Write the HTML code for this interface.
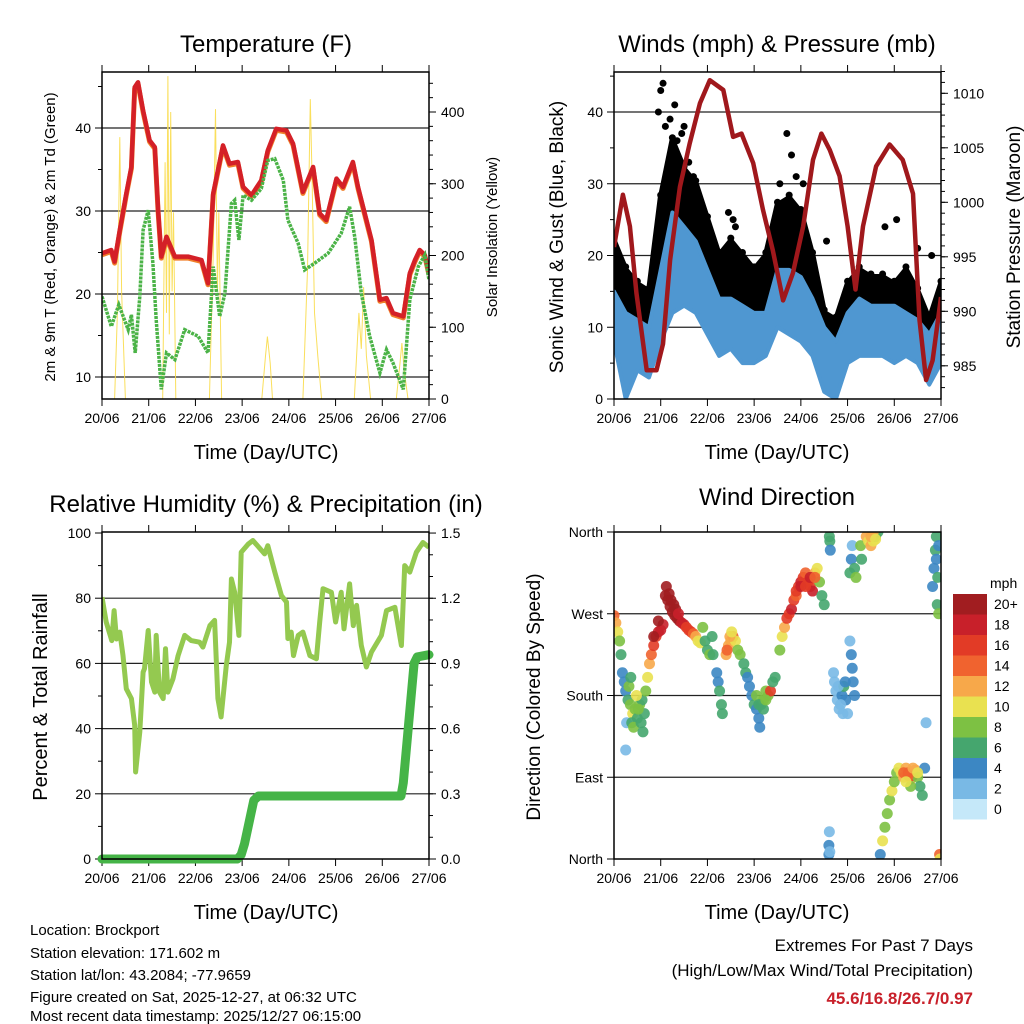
<!DOCTYPE html>
<html><head><meta charset="utf-8"><style>
html,body{margin:0;padding:0;background:#fff;}
svg{display:block;font-family:"Liberation Sans",Arial,sans-serif;}
</style></head><body>
<svg id="chart" width="1024" height="1024" viewBox="0 0 1024 1024" xmlns="http://www.w3.org/2000/svg">
<rect x="0" y="0" width="1024" height="1024" fill="#fff"/>
<g font-size="24" text-anchor="middle" fill="#000">
<text x="266" y="52">Temperature (F)</text>
<text x="777" y="52">Winds (mph) &amp; Pressure (mb)</text>
<text x="266" y="512">Relative Humidity (%) &amp; Precipitation (in)</text>
<text x="777" y="505">Wind Direction</text>
</g>
<g font-size="20" text-anchor="middle">
<text x="266" y="459">Time (Day/UTC)</text>
<text x="777" y="459">Time (Day/UTC)</text>
<text x="266" y="919">Time (Day/UTC)</text>
<text x="777" y="919">Time (Day/UTC)</text>
</g>
<text transform="translate(55,237) rotate(-90)" font-size="15" text-anchor="middle">2m &amp; 9m T (Red, Orange) &amp; 2m Td (Green)</text>
<text transform="translate(497,237) rotate(-90)" font-size="15" text-anchor="middle">Solar Insolation (Yellow)</text>
<text transform="translate(563,237) rotate(-90)" font-size="19" text-anchor="middle">Sonic Wind &amp; Gust (Blue, Black)</text>
<text transform="translate(1020,237) rotate(-90)" font-size="19" text-anchor="middle">Station Pressure (Maroon)</text>
<text transform="translate(47,697) rotate(-90)" font-size="20" text-anchor="middle">Percent &amp; Total Rainfall</text>
<text transform="translate(540,697) rotate(-90)" font-size="19" text-anchor="middle">Direction (Colored By Speed)</text>
<g font-size="15">
<text x="30" y="935">Location: Brockport</text>
<text x="30" y="958">Station elevation: 171.602 m</text>
<text x="30" y="980">Station lat/lon: 43.2084; -77.9659</text>
<text x="30" y="1002">Figure created on Sat, 2025-12-27, at 06:32 UTC</text>
<text x="30" y="1024" dy="-3">Most recent data timestamp: 2025/12/27 06:15:00</text>
</g>
<g font-size="17" text-anchor="end">
<text x="973" y="951">Extremes For Past 7 Days</text>
<text x="973" y="976">(High/Low/Max Wind/Total Precipitation)</text>
<text x="973" y="1004" fill="#c8202a" font-weight="bold">45.6/16.8/26.7/0.97</text>
</g>
<text x="990" y="588" font-size="14">mph</text>
<g id="marks"></g>
</svg>
<script>
// ---------- data ----------
const dayLabels = ["20/06","21/06","22/06","23/06","24/06","25/06","26/06","27/06"];
const tempDays = [0,0.2,0.27,0.38,0.52,0.63,0.7,0.77,0.88,1.02,1.13,1.2,1.27,1.38,1.56,1.84,2.13,2.27,2.38,2.59,2.73,2.91,3.02,3.2,3.41,3.55,3.73,3.95,4.09,4.3,4.52,4.66,4.8,5.02,5.16,5.37,5.48,5.77,5.95,6.09,6.23,6.45,6.59,6.7,6.8,6.91,7.0];
const tempVals = [24.9,25.3,23.9,27.7,32.1,35.3,44.9,45.5,42.1,38.5,37.7,30.1,24.5,26.9,24.5,24.5,24.1,21.3,32.1,37.9,35.7,35.9,32.9,31.9,33.7,37.3,39.9,39.7,38.1,32.3,35.3,29.7,28.9,33.9,32.9,35.9,32.9,26.5,19.3,19.5,17.7,17.3,22.5,24.1,25.3,24.7,22.5];
const dewDays = [0,0.2,0.36,0.56,0.63,0.71,0.81,0.88,0.99,1.09,1.16,1.27,1.38,1.56,1.77,2.06,2.27,2.38,2.52,2.63,2.77,2.84,2.93,3.02,3.2,3.41,3.55,3.7,3.88,3.98,4.2,4.34,4.55,4.84,5.12,5.3,5.41,5.55,5.73,5.95,6.09,6.23,6.45,6.59,6.77,6.91,7.0];
const dewVals = [19.7,16.1,18.7,15.7,17.5,12.9,19.7,27.7,30.1,23.7,16.9,8.5,12.9,12.1,15.7,14.9,12.9,23.3,17.3,20.1,30.9,31.3,26.5,31.9,31.3,32.7,36.1,36.3,33.7,28.9,26.1,22.9,23.7,24.9,27.3,30.5,26.9,20.1,14.9,10.5,13.3,11.7,8.5,19.3,23.3,24.7,21.7];
const solarDays = [0.27,0.33,0.38,0.42,0.5,1.3,1.35,1.38,1.41,1.44,1.47,1.5,1.53,1.58,2.3,2.38,2.43,2.47,2.5,2.56,3.42,3.5,3.54,3.6,3.65,4.3,4.4,4.46,4.5,4.55,4.62,4.7,5.4,5.5,5.55,5.6,5.66,5.75,6.3,6.38,6.42,6.47,6.55];
const solarVals = [0,120,365,150,0,0,330,120,450,90,400,150,260,0,0,200,404,150,260,0,0,60,87,50,0,0,180,418,300,120,60,0,0,120,70,156,60,0,0,50,78,40,0];
const windDays = [0,0.25,0.5,0.75,1,1.25,1.5,1.75,2,2.25,2.5,2.75,3,3.25,3.5,3.75,4,4.25,4.5,4.75,5,5.25,5.5,5.75,6,6.25,6.5,6.75,7];
const gustMax = [22,18,16,15,28,36,32,30,25,20,22,20,18,20,27,28,26,20,12,11,16,18,17,17,16,18,15,11,16];
const gustMin = [14,9,8,7,15,22,20,18,14,11,12,10,9,11,16,16,14,10,5,5,10,12,11,11,10,11,10,7,10];
const windMax = [15,12,11,10,18,26,24,22,18,14,14,13,12,12,18,18,17,14,10,8,12,14,13,13,13,12,11,9,12];
const windMin = [8,0,4,3,8,12,13,12,9,6,7,5,5,6,10,9,8,6,1,0,5,6,6,6,5,6,5,2,5];
const gustOutDays = [0.95,1.0,1.05,1.1,1.2,1.3,1.35,1.45,1.5,1.6,1.7,2.45,2.55,2.6,3.55,3.7,3.8,3.9,4.05,4.55,5.8,6.05,6.5,6.8];
const gustOutVals = [40,43,44,38,39,41,36,37,38,33,31,26,25,24,30,37,34,31,30,22,24,25,21,20];
const presDays = [0,0.19,0.34,0.48,0.7,0.91,1.05,1.2,1.41,1.62,1.84,2.05,2.34,2.55,2.73,2.98,3.19,3.4,3.62,3.83,4.05,4.26,4.44,4.62,4.83,5.0,5.17,5.33,5.61,5.9,6.18,6.4,6.54,6.68,6.82,7.0];
const presVals = [995.9,1000.7,997.8,991.7,984.6,984.6,987,994.7,1001.4,1005.4,1009.1,1011.2,1010.3,1006,1006.3,1003.6,999.3,995.6,991,993.5,997.8,1003.9,1006.3,1004.8,1002.4,997.8,992,997.8,1003.3,1005.3,1003.9,1000.8,989.2,983.7,985.5,991.3];
const rhDays = [0,0.09,0.21,0.26,0.31,0.38,0.45,0.52,0.63,0.7,0.72,0.81,0.88,0.91,0.99,1.06,1.13,1.16,1.23,1.31,1.36,1.41,1.52,1.63,1.77,1.91,2.09,2.16,2.31,2.41,2.48,2.55,2.66,2.73,2.77,2.84,2.93,2.98,3.13,3.23,3.48,3.55,3.7,3.84,3.95,3.98,4.05,4.1,4.2,4.3,4.45,4.59,4.66,4.73,4.91,5.0,5.12,5.18,5.3,5.38,5.45,5.55,5.66,5.77,5.98,6.09,6.27,6.41,6.48,6.59,6.73,6.87,7.0];
const rhVals = [80.3,72.7,67,76.2,67.5,69.6,62.4,52.2,49.2,41,26.7,39,57.3,58.4,70.1,54.3,51.2,68.6,51.2,49.2,64.5,51.2,55.3,62.4,68.6,67,66.5,65,71.6,73.2,49.2,43.6,59.4,66.5,85.9,81.8,68.6,94.1,96.6,97.7,93.6,96.1,88,80.8,78.8,67.6,69.6,62.4,68.6,69.6,62.4,61.4,72.7,82.9,81.8,72.7,81.8,70.6,84.4,71.6,77.8,65.5,58.9,63.5,68.6,76.2,77.2,65.5,90,88,94.1,97.1,95.6];
const rainDays = [0,2.9,2.98,3.05,3.25,3.35,4,6.4,6.45,6.68,6.75,7];
const rainVals = [0,0,0.02,0.07,0.27,0.29,0.29,0.29,0.35,0.9,0.93,0.94];
const dirDays = [0,0.04,0.08,0.12,0.15,0.18,0.22,0.25,0.27,0.25,0.3,0.35,0.4,0.45,0.5,0.55,0.6,0.65,0.68,0.72,0.76,0.8,0.85,0.9,0.95,1.0,1.05,1.1,1.15,1.2,1.25,1.3,1.35,1.4,1.45,1.5,1.55,1.6,1.65,1.7,1.75,1.8,1.85,1.9,1.95,2.0,2.05,2.1,2.12,2.2,2.23,2.26,2.3,2.32,2.4,2.45,2.5,2.55,2.6,2.65,2.7,2.78,2.82,2.86,2.9,2.95,3.0,3.05,3.1,3.12,3.15,3.2,3.25,3.3,3.35,3.4,3.45,3.55,3.6,3.65,3.7,3.75,3.8,3.85,3.9,3.95,4.0,4.05,4.1,4.15,4.2,4.25,4.3,4.35,4.4,4.45,4.5,4.6,4.61,4.62,4.63,4.61,4.7,4.72,4.75,4.78,4.82,4.88,4.92,4.96,5.0,5.05,5.08,5.1,5.12,5.15,5.05,5.08,5.1,5.15,5.18,5.3,5.28,5.4,5.45,5.5,5.55,5.6,5.65,5.7,5.75,5.8,5.85,5.9,5.95,6.0,6.05,6.1,6.15,6.2,6.25,6.3,6.35,6.4,6.45,6.5,6.55,6.6,6.65,6.68,6.82,6.85,6.88,6.9,6.92,6.95,6.97,6.98,
  0.32,0.38,0.42,0.48,0.52,0.58,0.62,0.36,1.12,1.18,1.22,1.28,1.32,1.38,0.85,0.95,2.42,2.48,2.52,3.05,3.1,3.2,3.25,3.9,4.0,4.1,4.2,4.3,4.8,4.85,4.9,4.95,5.5,5.55,5.6,6.2,6.3,6.4,6.5,6.35,6.25,6.9,6.93,6.95,4.6,4.62];
const dirDeg = [268,260,250,240,225,205,195,185,150,120,175,170,160,165,155,170,175,160,185,200,215,225,235,245,250,252,258,290,285,278,272,268,265,262,260,258,255,252,250,248,245,240,238,255,240,230,225,245,225,205,195,185,170,160,225,235,240,245,240,230,225,215,205,200,190,180,170,165,155,145,170,175,185,180,185,195,200,230,245,255,265,270,275,285,290,300,305,310,315,305,300,295,315,320,305,290,280,5,30,350,340,355,205,195,185,175,165,180,190,175,160,240,225,210,195,180,315,330,345,320,310,330,345,355,350,345,350,355,360,5,20,35,50,65,75,85,95,100,95,90,100,95,88,92,98,90,80,70,100,150,300,320,340,355,280,270,5,0,
  190,150,145,180,165,150,140,200,300,292,285,280,275,270,245,262,230,245,250,180,170,165,175,295,300,300,310,310,190,170,160,195,355,360,352,95,92,100,95,80,85,330,310,345,15,8];
const dirSpd = [14,13,11,9,7,5,4,5,3,2,7,8,10,9,7,8,7,6,8,10,12,14,16,17,18,18,19,21,20,21,20,20,21,20,19,18,17,17,16,14,12,11,10,8,7,6,8,6,7,4,5,6,6,6,12,13,12,14,11,9,8,7,6,4,5,4,6,5,4,4,7,8,9,8,16,7,6,8,10,13,16,17,18,16,15,17,18,16,14,17,16,18,12,10,8,7,6,4,3,6,5,6,2,2,3,2,2,4,6,5,3,3,4,4,5,4,6,4,3,7,8,6,8,12,11,12,10,8,7,5,10,9,8,8,10,8,9,10,11,12,13,14,13,16,12,8,6,6,4,3,4,5,6,7,6,8,14,10,
  8,7,9,10,8,6,7,6,21,20,21,22,20,19,20,21,14,12,11,8,6,7,8,17,19,17,18,15,3,2,2,4,12,13,11,14,15,12,10,9,11,5,6,4,4,3];
const speedLabels = ["20+","18","16","14","12","10","8","6","4","2","0"];
const speedColors = ["#a11d20","#c8202a","#e23b26","#f0632f","#f7a84a","#e9e150","#7dc143","#45a66e","#3c87c3","#79b9e5","#c5e8f9"];

// ---------- helpers ----------
const NS = "http://www.w3.org/2000/svg";
const root = document.getElementById("marks");
function mk(tag, attrs, parent) {
  const el = document.createElementNS(NS, tag);
  for (const k in attrs) el.setAttribute(k, attrs[k]);
  (parent || root).appendChild(el);
  return el;
}
const P1 = {x0:102,x1:429,y0:72,y1:399};
const P2 = {x0:614,x1:941,y0:72,y1:399};
const P3 = {x0:102,x1:429,y0:532,y1:859};
const P4 = {x0:614,x1:941,y0:532,y1:859};
function sx(p, d) { return p.x0 + (p.x1 - p.x0) * d / 7; }
const yT = v => 377 - (v - 10) * 8.3;
const yS = v => 399 - v * 0.7175;
const yW = v => 399 - v * 7.175;
const yP = v => 93.3 + (1010 - v) * 10.9;
const yR = v => 859 - v * 3.26;
const yRain = v => 859 - v * 217.3;
const yD = v => 859 - v * 0.9083;
function pts(p, days, vals, fy) { return days.map((d, i) => sx(p, d).toFixed(1) + "," + fy(vals[i]).toFixed(1)).join(" "); }
function clip(id, p) {
  const cp = mk("clipPath", {id: id});
  mk("rect", {x: p.x0, y: p.y0, width: p.x1 - p.x0, height: p.y1 - p.y0}, cp);
}
clip("c1", P1); clip("c2", P2); clip("c3", P3); clip("c4", P4);

// ---------- frames, grids, ticks ----------
function frame(p, name, leftTicks, fyL, leftLabels, minorL, rightTicks, fyR, rightLabels, minorR) {
  const g = mk("g", {});
  
  
  leftTicks.forEach((v, i) => {
    const y = fyL(v);
    if (y > p.y0 + 1 && y < p.y1 - 1) {
      const gl = mk("line", {x1: p.x0, x2: p.x1, y1: y, y2: y, stroke: "#222", "stroke-width": 1.2}, g);
      
      
    }
    const tk = mk("line", {x1: p.x0 - 7, x2: p.x0, y1: y, y2: y, stroke: "#000", "stroke-width": 1}, g);
    
    
    const t = mk("text", {x: p.x0 - 11, y: y + 5, "font-size": 14, "text-anchor": "end"}, g);
    t.textContent = leftLabels[i];
    
    
  });
  minorL.forEach(v => {
    const y = fyL(v);
    const tk = mk("line", {x1: p.x0 - 4, x2: p.x0, y1: y, y2: y, stroke: "#000", "stroke-width": 1}, g);
    
    
  });
  if (rightTicks) {
    rightTicks.forEach((v, i) => {
      const y = fyR(v);
      const tk = mk("line", {x1: p.x1, x2: p.x1 + 7, y1: y, y2: y, stroke: "#000", "stroke-width": 1}, g);
      
      
      const t = mk("text", {x: p.x1 + 12, y: y + 5, "font-size": 14}, g);
      t.textContent = rightLabels[i];
      
      
    });
    minorR.forEach(v => {
      const y = fyR(v);
      const tk = mk("line", {x1: p.x1, x2: p.x1 + 4, y1: y, y2: y, stroke: "#000", "stroke-width": 1}, g);
      
      
    });
  }
  dayLabels.forEach((lab, i) => {
    const x = sx(p, i);
    const a = mk("line", {x1: x, x2: x, y1: p.y1, y2: p.y1 + 7, stroke: "#000", "stroke-width": 1}, g);
    
    
    const b = mk("line", {x1: x, x2: x, y1: p.y0 - 7, y2: p.y0, stroke: "#000", "stroke-width": 1}, g);
    
    
    const t = mk("text", {x: x, y: p.y1 + 24, "font-size": 14, "text-anchor": "middle"}, g);
    t.textContent = lab;
    
    
  });
}
function range(a, b, s) { const r = []; for (let v = a; v <= b + 1e-9; v += s) r.push(+v.toFixed(3)); return r; }
frame(P1, "temperature", [10,20,30,40], yT, ["10","20","30","40"], [15,25,35,45], [0,100,200,300,400], yS, ["0","100","200","300","400"], range(20,440,20));
frame(P2, "winds", [0,10,20,30,40], yW, ["0","10","20","30","40"], [5,15,25,35,45], [985,990,995,1000,1005,1010], yP, ["985","990","995","1000","1005","1010"], range(983,1012,1));
frame(P3, "humidity", [0,20,40,60,80,100], yR, ["0","20","40","60","80","100"], [10,30,50,70,90], [0,0.3,0.6,0.9,1.2,1.5], yRain, ["0.0","0.3","0.6","0.9","1.2","1.5"], range(0.1,1.4,0.1));
frame(P4, "direction", [0,90,180,270,360], yD, ["North","East","South","West","North"], [], null);

// ---------- panel 1: temperature ----------
const s1 = mk("polyline", {points: pts(P1, solarDays, solarVals, yS), fill: "none", stroke: "#f9dc4a", "stroke-width": 1, "clip-path": "url(#c1)", opacity: 0.9});


const t9 = mk("polyline", {points: pts(P1, tempDays, tempVals, yT), fill: "none", stroke: "#f07f2a", "stroke-width": 5, "stroke-linejoin": "round", transform: "translate(0,1.5)", "clip-path": "url(#c1)"});


const t2 = mk("polyline", {points: pts(P1, tempDays, tempVals, yT), fill: "none", stroke: "#d42027", "stroke-width": 4.5, "stroke-linejoin": "round", "clip-path": "url(#c1)"});


const td = mk("polyline", {points: pts(P1, dewDays, dewVals, yT), fill: "none", stroke: "#4bb347", "stroke-width": 3.5, "stroke-dasharray": "3 1", "clip-path": "url(#c1)"});



// ---------- panel 2: winds ----------
function band(p, days, hi, lo, fy) {
  const top = days.map((d, i) => sx(p, d).toFixed(1) + "," + fy(hi[i]).toFixed(1));
  const bot = days.map((d, i) => sx(p, d).toFixed(1) + "," + fy(lo[i]).toFixed(1)).reverse();
  return top.concat(bot).join(" ");
}
const gb = mk("polygon", {points: band(P2, windDays, gustMax, gustMin, yW), fill: "#000", stroke: "#000", "stroke-width": 6, "stroke-linejoin": "round", "clip-path": "url(#c2)"});


gustMax.forEach((v, i) => {
  const c = mk("circle", {cx: sx(P2, windDays[i]), cy: yW(v) - 3, r: 3.5, fill: "#000", "clip-path": "url(#c2)"});
  
  
});
gustOutVals.forEach((v, i) => {
  const c = mk("circle", {cx: sx(P2, gustOutDays[i]), cy: yW(v), r: 3.5, fill: "#000", "clip-path": "url(#c2)"});
  
  
});
const wb = mk("polygon", {points: band(P2, windDays, windMax, windMin, yW), fill: "#4f97d1", stroke: "#4f97d1", "stroke-width": 4, "stroke-linejoin": "round", "clip-path": "url(#c2)"});


const pl = mk("polyline", {points: pts(P2, presDays, presVals, yP), fill: "none", stroke: "#a0181c", "stroke-width": 4.5, "stroke-linejoin": "round", "clip-path": "url(#c2)"});



// ---------- panel 3: humidity & rain ----------
const rh = mk("polyline", {points: pts(P3, rhDays, rhVals, yR), fill: "none", stroke: "#94c950", "stroke-width": 5, "stroke-linejoin": "round", "clip-path": "url(#c3)"});


const rn = mk("polyline", {points: pts(P3, rainDays, rainVals, yRain), fill: "none", stroke: "#45b447", "stroke-width": 9, "stroke-linejoin": "round", "stroke-linecap": "round"});



// ---------- panel 4: wind direction ----------
function speedColor(s) { const idx = s >= 20 ? 0 : Math.max(1, 10 - Math.floor(s / 2)); return speedColors[idx]; }
dirDeg.forEach((v, i) => {
  const c = mk("circle", {cx: sx(P4, dirDays[i]), cy: yD(v), r: 5.5, fill: speedColor(dirSpd[i]), opacity: 0.9, "clip-path": "url(#c4)"});
  
  
});
speedLabels.forEach((lab, i) => {
  const y = 594 + i * 20.5;
  const r = mk("rect", {x: 953, y: y, width: 34, height: 20.5, fill: speedColors[i]});
  
  
  const t = mk("text", {x: 994, y: y + 15, "font-size": 14});
  t.textContent = lab;
  
  
});

// ---------- borders on top ----------
[[P1,"temperature"],[P2,"winds"],[P3,"humidity"],[P4,"direction"]].forEach(([p, n]) => {
  const b = mk("rect", {x: p.x0, y: p.y0, width: p.x1 - p.x0, height: p.y1 - p.y0, fill: "none", stroke: "#000", "stroke-width": 1.5});
  
  
});
</script>
</body></html>
